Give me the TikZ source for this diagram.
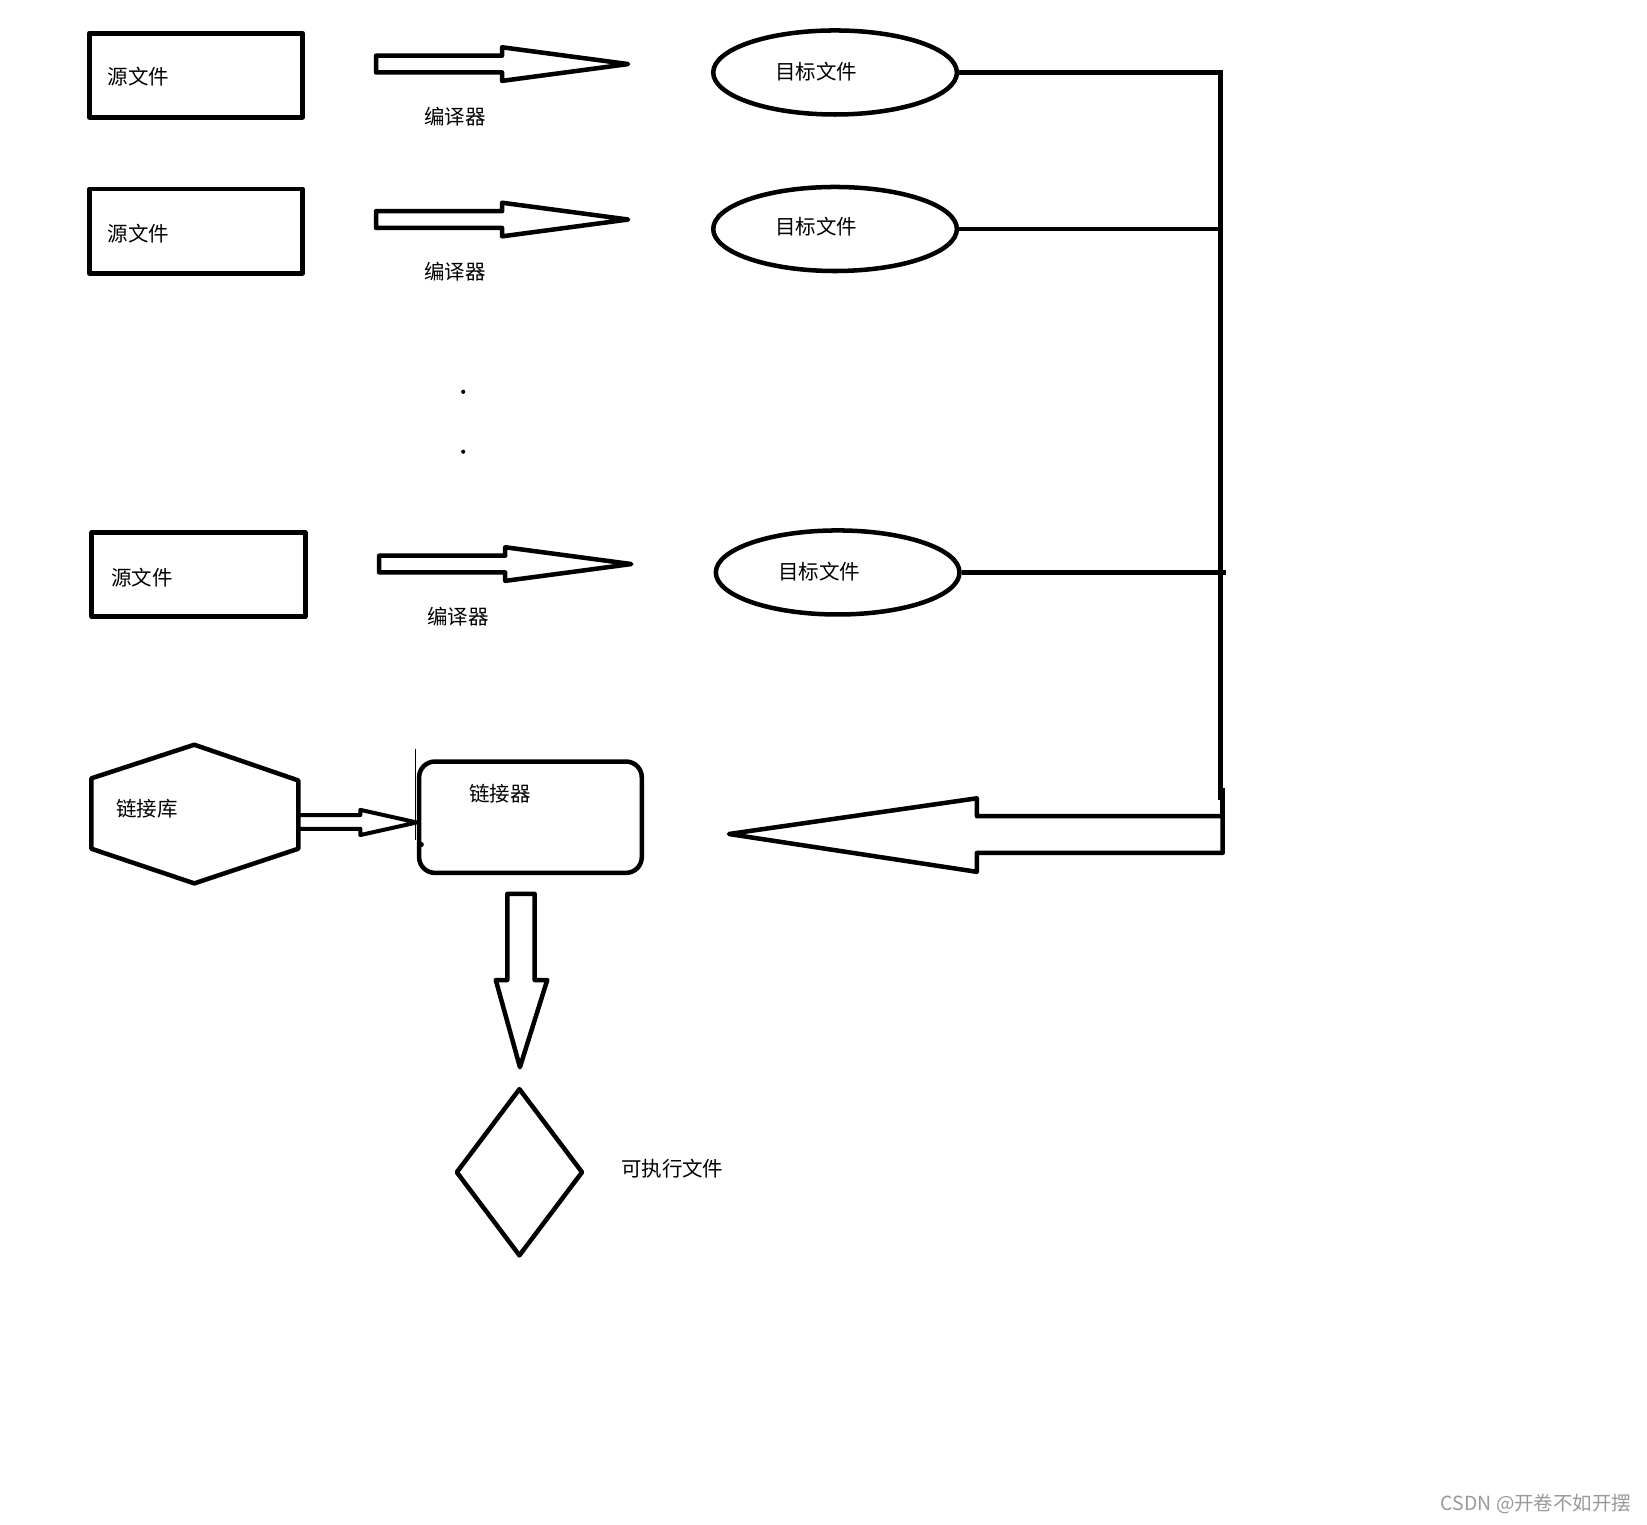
\documentclass[tikz,border=0pt]{standalone}
\usepackage{fontspec}
\newfontfamily\cjk{Noto Sans CJK SC}
\usetikzlibrary{shapes.geometric}
\begin{document}
\begin{tikzpicture}[x=1pt,y=-1pt,line join=round,
  ln/.style={line width=4.3pt},
  srcbox/.style={draw,line width=4.6pt,rectangle,minimum width=203pt,minimum height=80pt,inner sep=0pt},
  objell/.style={draw,ln,ellipse,minimum width=232pt,minimum height=80pt,inner sep=0pt},
  txt/.style={font=\cjk\fontsize{19.5}{19.5}\selectfont,inner sep=0pt},
  compilearrow/.pic={\draw[ln] (0,-8) -- (120,-8) -- (120,-16) -- (240,0) -- (120,16) -- (120,8) -- (0,8) -- cycle;}]
\useasboundingbox[fill=white] (0,0) rectangle (1568,1451);

% source files
\node[srcbox] (s1) at (186.5,71.5) {};
\node[srcbox] (s2) at (186.5,220) {};
\node[srcbox] (s3) at (189,547) {};
\node[txt] (s1t) at (132,73) {源文件};
\node[txt] (s2t) at (132,222) {源文件};
\node[txt] (s3t) at (135,550) {源文件};

% compiler arrows
\pic at (358,61) {compilearrow};
\pic at (358,209) {compilearrow};
\pic at (361,537) {compilearrow};
\node[txt] (c1) at (433,111) {编译器};
\node[txt] (c2) at (433,259) {编译器};
\node[txt] (c3) at (436,587) {编译器};

% dots
\fill (441,373) circle (2pt);
\fill (441,430) circle (2pt);

% object files
\node[objell] (e1) at (795,69) {};
\node[objell] (e2) at (795,218) {};
\node[objell] (e3) at (797.5,545) {};
\node[txt] (e1t) at (777,68) {目标文件};
\node[txt] (e2t) at (777,216) {目标文件};
\node[txt] (e3t) at (780,544) {目标文件};

% bus
\coordinate (bus) at (1162,67);
\coordinate (e3end) at (1167,547);
\draw[ln] (e1.east) -- (e1.east -| bus);
\draw[ln] (e2.east) -- (e2.east -| bus);
\draw[ln] (e3.east) -- (e3.east -| e3end);
\draw[ln] (bus) -- (1162,762);
\draw[ln] (1164,750) -- (1164,777);

% big arrow to linker
\draw[ln] (1164,777) -- (930,777) -- (930,760) -- (694,794) -- (930,830) -- (930,812) -- (1164,812) -- cycle;

% library hexagon
\draw[ln] (185,709) -- (284,743) -- (284,808) -- (185,841) -- (87,808) -- (87,741) -- cycle;
\coordinate (libE) at (284,782.5);
\node[txt] (libt) at (140,770) {链接库};

% linker
\node[draw,ln,rounded corners=15pt,minimum width=212pt,minimum height=106pt,inner sep=0pt] (lnk) at (505,778) {};
\node[txt] (lnkt) at (476,756) {链接器};
\draw[line width=1pt] (396,713) -- (396,800);
\fill (401,804) circle (2.5pt);

% small arrow library -> linker
\draw[line width=3.8pt] (libE) ++(0,-6.5) -- (343,776) -- (343,771) -- (lnk.west |- 0,783) -- (343,795) -- (343,789) -- (284,789);

% down arrow
\draw[ln] (483,851) -- (509,851) -- (509,933) -- (521,933) -- (495,1016) -- (472,933) -- (483,933) -- cycle;

% executable
\node[draw,ln,diamond,minimum width=121pt,minimum height=160pt,inner sep=0pt] (exe) at (494.5,1116) {};
\node[txt] (exet) at (640,1113) {可执行文件};

% watermark
\node[font=\cjk\fontsize{18.5}{18.5}\selectfont,text=black!40,anchor=east,inner sep=0pt] (wm) at (1553,1432) {CSDN @开卷不如开摆};
\end{tikzpicture}
\end{document}
